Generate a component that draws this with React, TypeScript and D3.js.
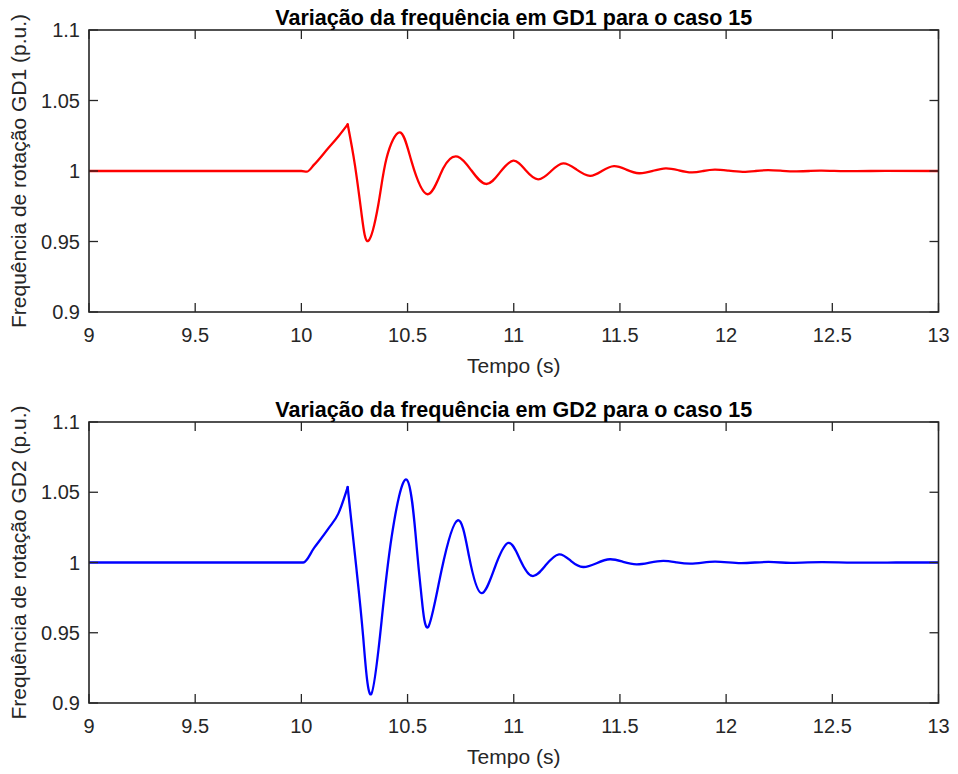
import React from "react";
import * as d3 from "d3";

// ---------- data ----------
const xTicks = [9, 9.5, 10, 10.5, 11, 11.5, 12, 12.5, 13];
const yTicks = [0.9, 0.95, 1, 1.05, 1.1];

// GD1: pre-fault flat + ramp up to first peak
const gd1RiseT = [9, 10.0, 10.025, 10.06, 10.127, 10.174, 10.218];
const gd1RiseV = [1, 1, 0.9995, 1.0045, 1.0163, 1.0245, 1.0331];
// GD1: oscillation after the first peak
const gd1OscT = [10.218, 10.252, 10.284, 10.315, 10.362, 10.401, 10.464, 10.519, 10.594, 10.668, 10.736, 10.8, 10.869, 10.935, 10.998, 11.055, 11.115, 11.175, 11.233, 11.296, 11.359, 11.415, 11.472, 11.53, 11.59, 11.655, 11.716, 11.777, 11.837, 11.892, 11.947, 12.012, 12.078, 12.138, 12.198, 12.265, 12.33, 12.39, 12.45, 12.6, 12.75, 13];
const gd1OscV = [1.0331, 1.0043, 0.9688, 0.9504, 0.9759, 1.009, 1.0274, 1.0066, 0.9835, 1.0019, 1.0102, 1.0005, 0.9908, 0.999, 1.0073, 1.0007, 0.9941, 0.9998, 1.0054, 1.001, 0.9966, 1.0, 1.0035, 1.001, 0.9984, 1.0001, 1.0019, 1.0005, 0.999, 1.0, 1.001, 1.0002, 0.9994, 1.0, 1.0006, 1.0001, 0.9997, 1.0, 1.0003, 0.9999, 1.0001, 1.0];

// GD2
const gd2RiseT = [9, 10.009, 10.06, 10.127, 10.174, 10.218];
const gd2RiseV = [1, 1, 1.0104, 1.0241, 1.0348, 1.0537];
const gd2OscT = [10.218, 10.26, 10.291, 10.328, 10.378, 10.425, 10.496, 10.543, 10.566, 10.597, 10.66, 10.736, 10.79, 10.846, 10.91, 10.974, 11.03, 11.087, 11.15, 11.213, 11.27, 11.327, 11.39, 11.453, 11.515, 11.578, 11.64, 11.704, 11.767, 11.83, 11.89, 11.947, 12.01, 12.07, 12.135, 12.2, 12.26, 12.32, 12.45, 12.6, 12.8, 13];
const gd2OscV = [1.0537, 0.9945, 0.947, 0.9062, 0.9589, 1.0182, 1.059, 1.011, 0.9754, 0.9541, 0.9945, 1.03, 1.004, 0.9783, 0.9961, 1.0139, 1.002, 0.9904, 0.998, 1.0058, 1.001, 0.9968, 0.9995, 1.0023, 1.0005, 0.9987, 0.9999, 1.0011, 1.0001, 0.9992, 0.9999, 1.0006, 1.0001, 0.9996, 1.0, 1.0004, 1.0, 0.9998, 1.0002, 0.9999, 1.0, 1.0];

const panels = [
  {
    title: "Variação da frequência em GD1 para o caso 15",
    ylabel: "Frequência de rotação GD1 (p.u.)",
    color: "#ff0000",
    riseT: gd1RiseT, riseV: gd1RiseV, oscT: gd1OscT, oscV: gd1OscV,
    top: 30, bottom: 312,
  },
  {
    title: "Variação da frequência em GD2 para o caso 15",
    ylabel: "Frequência de rotação GD2 (p.u.)",
    color: "#0000ff",
    riseT: gd2RiseT, riseV: gd2RiseV, oscT: gd2OscT, oscV: gd2OscV,
    top: 422, bottom: 703,
  },
];

const W = 958;
const H = 774;
const LEFT = 89;
const RIGHT = 938.5;
const AX = "#262626";
const FONT = "'Liberation Sans', Arial, Helvetica, sans-serif";
const TICK = 9;

function Panel({ p }: { p: (typeof panels)[number] }) {
  const x = d3.scaleLinear().domain([9, 13]).range([LEFT, RIGHT]);
  const y = d3.scaleLinear().domain([0.9, 1.1]).range([p.bottom, p.top]);
  const riseLine = d3
    .line<[number, number]>()
    .x((d) => x(d[0]))
    .y((d) => y(d[1]))
    .curve(d3.curveMonotoneX);
  const oscLine = d3
    .line<[number, number]>()
    .x((d) => x(d[0]))
    .y((d) => y(d[1]))
    .curve(d3.curveNatural);
  const rise = p.riseT.map((t, i) => [t, p.riseV[i]] as [number, number]);
  const osc = p.oscT.map((t, i) => [t, p.oscV[i]] as [number, number]);
  const midY = (p.top + p.bottom) / 2;
  const midX = (LEFT + RIGHT) / 2;
  return (
    <g>
      <defs>
        <clipPath id={"clip" + p.top}>
          <rect x={LEFT} y={p.top} width={RIGHT - LEFT} height={p.bottom - p.top} />
        </clipPath>
      </defs>
      <g fill="none" stroke={p.color} strokeWidth={2.3} strokeLinejoin="round" strokeLinecap="round" clipPath={`url(#clip${p.top})`}>
        <path d={riseLine(rise) || ""} />
        <path d={oscLine(osc) || ""} />
      </g>
      {/* ticks */}
      <g stroke={AX} strokeWidth={1.3}>
        {xTicks.map((t) => (
          <g key={"xt" + t}>
            <line x1={x(t)} x2={x(t)} y1={p.bottom} y2={p.bottom - TICK} />
            <line x1={x(t)} x2={x(t)} y1={p.top} y2={p.top + TICK} />
          </g>
        ))}
        {yTicks.map((v) => (
          <g key={"yt" + v}>
            <line x1={LEFT} x2={LEFT + TICK} y1={y(v)} y2={y(v)} />
            <line x1={RIGHT} x2={RIGHT - TICK} y1={y(v)} y2={y(v)} />
          </g>
        ))}
      </g>
      <rect x={LEFT} y={p.top} width={RIGHT - LEFT} height={p.bottom - p.top} fill="none" stroke={AX} strokeWidth={1.6} />
      {/* tick labels */}
      <g fill={AX} fontFamily={FONT} fontSize={20}>
        {xTicks.map((t) => (
          <text key={"xl" + t} x={x(t)} y={p.bottom + 30} textAnchor="middle">
            {d3.format("")(t)}
          </text>
        ))}
        {yTicks.map((v) => (
          <text key={"yl" + v} x={80} y={y(v)} dy="0.36em" textAnchor="end">
            {d3.format("")(v)}
          </text>
        ))}
      </g>
      <text x={midX} y={p.bottom + 61} textAnchor="middle" fill={AX} fontFamily={FONT} fontSize={21}>
        Tempo (s)
      </text>
      <text
        transform={`translate(26,${midY}) rotate(-90)`}
        textAnchor="middle"
        fill={AX}
        fontFamily={FONT}
        fontSize={21}
      >
        {p.ylabel}
      </text>
      <text x={midX} y={p.top - 5} textAnchor="middle" fill="#000" fontFamily={FONT} fontSize={21.5} fontWeight="bold">
        {p.title}
      </text>
    </g>
  );
}

export default function App() {
  return (
    <div style={{ position: "absolute", left: 0, top: 0 }}>
      <svg width={W} height={H} viewBox={`0 0 ${W} ${H}`} style={{ display: "block", background: "#fff" }}>
        <rect width={W} height={H} fill="#fff" />
        {panels.map((p, i) => (
          <Panel key={i} p={p} />
        ))}
      </svg>
    </div>
  );
}
